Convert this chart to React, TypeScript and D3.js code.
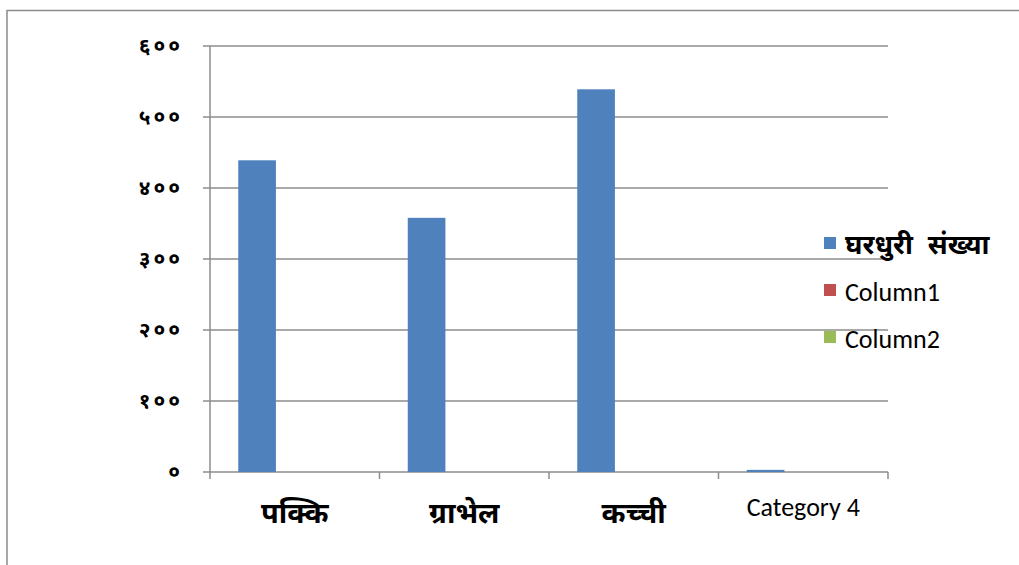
import React from "react";
import * as d3 from "d3";

const categories = ["पक्कि", "ग्राभेल", "कच्ची", "Category 4"];
const seriesNames = ["घरधुरी संख्या", "Column1", "Column2"];
const seriesColors = ["#4F81BD", "#C0504D", "#9BBB59"];
const householdValues = [439, 358, 539, 3];
const yTicks = [0, 100, 200, 300, 400, 500, 600];
const devaDigits = ["०", "१", "२", "३", "४", "५", "६", "७", "८", "९"];

const toDeva = (n: number) => String(n).split("").map((c) => devaDigits[+c]).join("");
const isDeva = (s: string) => /[\u0900-\u097F]/.test(s);

const W = 1019;
const H = 565;
const margin = { left: 210, right: 131, top: 46, bottom: 93 };

export default function App() {
  const plotW = W - margin.left - margin.right;
  const plotH = H - margin.top - margin.bottom;
  const x = d3.scaleBand<string>().domain(categories).range([margin.left, margin.left + plotW]);
  const y = d3.scaleLinear().domain([0, 600]).range([margin.top + plotH, margin.top]);
  const bw = x.bandwidth() / 4.5;
  const devaFont = "'Noto Sans Devanagari', 'Noto Sans', 'Lohit Devanagari', sans-serif";
  const latinFont = "Carlito, Calibri, Lato, 'Open Sans', sans-serif";
  const grid = "#8c8c8c";
  const x0 = margin.left;
  const x1 = margin.left + plotW;
  const yBase = y(0);

  return (
    <svg width={W} height={H} style={{ position: "absolute", left: 0, top: 0, background: "#fff" }}>
      <rect x={7} y={10.5} width={W + 20} height={H + 20} fill="#fff" stroke="#8c8c8c" strokeWidth={1.5} />
      {yTicks.map((t) => (
        <g key={t}>
          <line x1={x0 - 7} x2={x1} y1={y(t)} y2={y(t)} stroke={grid} strokeWidth={1.5} />
          <text x={x0 - 27} y={y(t)} dy="0.35em" textAnchor="end" fontFamily={devaFont} fontWeight="bold" fontSize={21} letterSpacing={3} fill="#000">
            {toDeva(t)}
          </text>
        </g>
      ))}
      <line x1={x0} x2={x0} y1={margin.top} y2={yBase + 7} stroke={grid} strokeWidth={1.5} />
      {categories.map((c) => (
        <line key={"tk" + c} x1={(x(c) as number) + x.bandwidth()} x2={(x(c) as number) + x.bandwidth()} y1={yBase} y2={yBase + 7} stroke={grid} strokeWidth={1.5} />
      ))}
      {categories.map((c, i) => (
        <rect key={"b" + c} x={(x(c) as number) + bw * 0.75} y={y(householdValues[i])} width={bw} height={yBase - y(householdValues[i])} fill={seriesColors[0]} />
      ))}
      {categories.map((c) => (
        <text
          key={"l" + c}
          x={(x(c) as number) + x.bandwidth() / 2}
          y={isDeva(c) ? yBase + 51 : yBase + 44}
          textAnchor="middle"
          fontFamily={isDeva(c) ? devaFont : latinFont}
          fontWeight={isDeva(c) ? "bold" : "normal"}
          fontSize={isDeva(c) ? 29 : 26}
          fill="#000"
        >
          {c}
        </text>
      ))}
      {seriesNames.map((s, i) => {
        const ly = 245 + i * 47;
        return (
          <g key={s}>
            <rect x={824} y={ly - 8} width={12} height={12} fill={seriesColors[i]} />
            <text
              x={845}
              y={ly}
              dy="0.35em"
              fontFamily={isDeva(s) ? devaFont : latinFont}
              fontWeight={isDeva(s) ? "bold" : "normal"}
              fontSize={isDeva(s) ? 27 : 26}
              wordSpacing={isDeva(s) ? 8 : 0}
              fill="#000"
            >
              {s}
            </text>
          </g>
        );
      })}
    </svg>
  );
}
